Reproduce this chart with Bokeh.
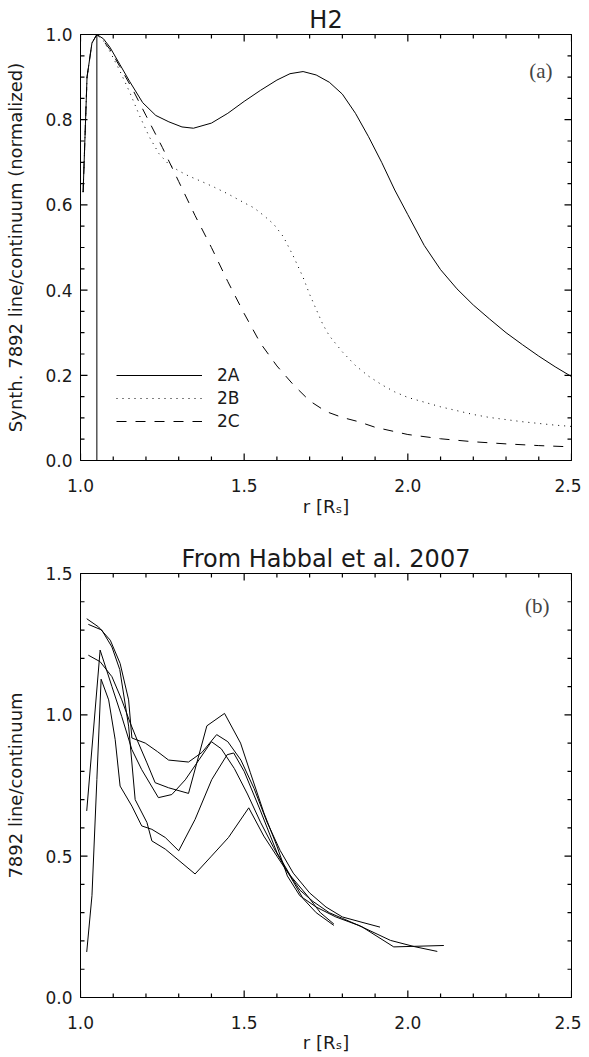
from bokeh.plotting import figure
from bokeh.models import (Range1d, LinearAxis, FixedTicker, PrintfTickFormatter,
                          CustomJSTickFormatter, Span, Label, Legend, LegendItem)
from bokeh.layouts import column
from bokeh.embed import file_html
from bokeh.resources import INLINE

# ---------------- data: panel (a) synthetic profiles ----------------
r_2a = [1.008, 1.02, 1.035, 1.05, 1.07, 1.09, 1.12, 1.15, 1.19, 1.23, 1.27, 1.31, 1.345,
        1.40, 1.45, 1.50, 1.55, 1.60, 1.64, 1.68, 1.72, 1.76, 1.80, 1.84, 1.88, 1.92,
        1.96, 2.00, 2.05, 2.10, 2.15, 2.20, 2.25, 2.30, 2.35, 2.40, 2.45, 2.50]
v_2a = [0.63, 0.90, 0.98, 1.0, 0.99, 0.97, 0.93, 0.89, 0.84, 0.81, 0.795, 0.783, 0.78,
        0.792, 0.815, 0.843, 0.869, 0.893, 0.908, 0.913, 0.905, 0.888, 0.86, 0.815, 0.76,
        0.70, 0.635, 0.577, 0.505, 0.448, 0.403, 0.365, 0.332, 0.30, 0.272, 0.245, 0.22, 0.197]

r_2b = [1.008, 1.02, 1.035, 1.05, 1.07, 1.09, 1.12, 1.15, 1.18, 1.21, 1.24, 1.27, 1.30,
        1.33, 1.37, 1.41, 1.45, 1.50, 1.53, 1.56, 1.59, 1.62, 1.65, 1.68, 1.70, 1.72,
        1.74, 1.76, 1.80, 1.84, 1.88, 1.92, 1.96, 2.00, 2.05, 2.10, 2.15, 2.20, 2.25,
        2.30, 2.35, 2.40, 2.45, 2.50]
v_2b = [0.63, 0.90, 0.98, 1.0, 0.985, 0.96, 0.915, 0.865, 0.81, 0.76, 0.72, 0.695, 0.68,
        0.668, 0.655, 0.641, 0.626, 0.605, 0.593, 0.575, 0.555, 0.525, 0.48, 0.43, 0.39,
        0.355, 0.32, 0.293, 0.255, 0.223, 0.198, 0.178, 0.161, 0.148, 0.137, 0.126, 0.117,
        0.108, 0.101, 0.096, 0.091, 0.087, 0.083, 0.08]

r_2c = [1.008, 1.02, 1.035, 1.05, 1.07, 1.09, 1.12, 1.16, 1.20, 1.25, 1.30, 1.35, 1.40,
        1.45, 1.50, 1.55, 1.60, 1.65, 1.70, 1.75, 1.80, 1.85, 1.90, 2.00, 2.10, 2.20,
        2.30, 2.40, 2.50]
v_2c = [0.63, 0.90, 0.98, 1.0, 0.985, 0.965, 0.925, 0.87, 0.81, 0.735, 0.655, 0.575, 0.50,
        0.42, 0.345, 0.275, 0.222, 0.178, 0.14, 0.115, 0.101, 0.091, 0.078, 0.061, 0.051,
        0.044, 0.039, 0.035, 0.032]

series_labels = ["2A", "2B", "2C"]
limb_r = 1.05

# ---------------- data: panel (b) Habbal et al. 2007 ----------------
hab_r_1 = [1.019, 1.055, 1.091, 1.121, 1.147, 1.157, 1.198, 1.235, 1.269, 1.33, 1.371,
           1.416, 1.45, 1.49, 1.53, 1.57, 1.61, 1.65, 1.70, 1.75, 1.80, 1.86, 1.915]
hab_v_1 = [1.34, 1.311, 1.264, 1.182, 1.053, 0.918, 0.90, 0.87, 0.84, 0.833, 0.867,
           0.93, 0.905, 0.84, 0.74, 0.62, 0.52, 0.44, 0.37, 0.32, 0.285, 0.266, 0.249]

hab_r_2 = [1.024, 1.065, 1.096, 1.12, 1.147, 1.167, 1.203, 1.218, 1.259, 1.35, 1.40,
           1.452, 1.514, 1.56, 1.60, 1.64, 1.68, 1.72, 1.774]
hab_v_2 = [1.32, 1.30, 1.24, 1.16, 0.96, 0.70, 0.619, 0.554, 0.525, 0.437, 0.50,
           0.566, 0.671, 0.571, 0.50, 0.43, 0.35, 0.30, 0.255]

hab_r_3 = [1.024, 1.06, 1.096, 1.126, 1.152, 1.177, 1.203, 1.228, 1.269, 1.33, 1.386,
           1.44, 1.489, 1.519, 1.56, 1.60, 1.632, 1.67, 1.72, 1.78, 1.85, 1.947, 2.02, 2.09]
hab_v_3 = [1.211, 1.188, 1.135, 1.053, 0.971, 0.90, 0.83, 0.76, 0.742, 0.722, 0.961,
           1.005, 0.90, 0.795, 0.654, 0.536, 0.43, 0.36, 0.32, 0.285, 0.255, 0.202, 0.18, 0.163]

hab_r_4 = [1.019, 1.06, 1.096, 1.126, 1.157, 1.187, 1.238, 1.279, 1.32, 1.40, 1.43,
           1.47, 1.51, 1.55, 1.59, 1.63, 1.67, 1.71, 1.76, 1.80, 1.86, 1.957, 2.11]
hab_v_4 = [0.66, 1.229, 1.10, 0.994, 0.877, 0.806, 0.707, 0.718, 0.77, 0.905, 0.88,
           0.81, 0.72, 0.62, 0.53, 0.45, 0.38, 0.34, 0.30, 0.28, 0.25, 0.179, 0.184]

hab_r_5 = [1.019, 1.035, 1.05, 1.063, 1.086, 1.106, 1.121, 1.157, 1.187, 1.218, 1.259,
           1.30, 1.35, 1.401, 1.448, 1.468, 1.50, 1.55, 1.60, 1.642, 1.693, 1.733, 1.774]
hab_v_5 = [0.161, 0.36, 0.771, 1.126, 1.053, 0.912, 0.748, 0.677, 0.607, 0.595, 0.566,
           0.519, 0.63, 0.771, 0.859, 0.865, 0.80, 0.66, 0.513, 0.43, 0.36, 0.30, 0.26]

# ---------------- ticks ----------------
x_ticks = [1.0, 1.5, 2.0, 2.5]
x_minor = [1.1, 1.2, 1.3, 1.4, 1.6, 1.7, 1.8, 1.9, 2.1, 2.2, 2.3, 2.4]
ya_ticks = [0.0, 0.2, 0.4, 0.6, 0.8, 1.0]
ya_minor = [0.05, 0.10, 0.15, 0.25, 0.30, 0.35, 0.45, 0.50, 0.55, 0.65, 0.70, 0.75,
            0.85, 0.90, 0.95]
yb_ticks = [0.0, 0.5, 1.0, 1.5]
yb_minor = [0.1, 0.2, 0.3, 0.4, 0.6, 0.7, 0.8, 0.9, 1.1, 1.2, 1.3, 1.4]

FONT = "DejaVu Sans"
TXT = "#1a1a1a"
TICK_COLOR = "black"
TICK_W = 1.2
MAJOR_LEN = 7
MINOR_LEN = 4
FIG_W = 581
BORDER_L = 80
BORDER_R = 10
FRAME_W = FIG_W - BORDER_L - BORDER_R
FRAME_H = 426


def style_axis(ax, ticker, show_labels, label=None):
    ax.ticker = ticker
    ax.major_tick_in = 0
    ax.major_tick_out = 0
    ax.minor_tick_in = 0
    ax.minor_tick_out = 0
    ax.axis_line_color = "black"
    if show_labels:
        ax.formatter = PrintfTickFormatter(format="%.1f")
        ax.major_label_text_font = FONT
        ax.major_label_text_font_size = "17px"
        ax.major_label_text_color = TXT
    else:
        ax.formatter = CustomJSTickFormatter(code="return ''")
        ax.major_label_text_font_size = "1px"
        ax.major_label_text_color = None
        ax.major_label_standoff = 0
    if label:
        ax.axis_label = label
        ax.axis_label_text_font = FONT
        ax.axis_label_text_font_size = "18px"
        ax.axis_label_text_font_style = "normal"
        ax.axis_label_text_color = TXT


def tick_marks(p, x0, x1, y0, y1, yt, ym):
    # inward tick marks on all four sides, drawn through the plot's data scales
    dx = (x1 - x0) / FRAME_W
    dy = (y1 - y0) / FRAME_H
    for ticks, ln in [(x_ticks, MAJOR_LEN), (x_minor, MINOR_LEN)]:
        n = len(ticks)
        p.segment(x0=ticks, y0=[y0] * n, x1=ticks, y1=[y0 + ln * dy] * n,
                  line_color=TICK_COLOR, line_width=TICK_W)
        p.segment(x0=ticks, y0=[y1] * n, x1=ticks, y1=[y1 - ln * dy] * n,
                  line_color=TICK_COLOR, line_width=TICK_W)
    for ticks, ln in [(yt, MAJOR_LEN), (ym, MINOR_LEN)]:
        n = len(ticks)
        p.segment(x0=[x0] * n, y0=ticks, x1=[x0 + ln * dx] * n, y1=ticks,
                  line_color=TICK_COLOR, line_width=TICK_W)
        p.segment(x0=[x1] * n, y0=ticks, x1=[x1 - ln * dx] * n, y1=ticks,
                  line_color=TICK_COLOR, line_width=TICK_W)


def make_fig(title, ylabel, yend, yt, ym, height, top, bottom, xlab_standoff):
    p = figure(width=FIG_W, height=height, x_range=Range1d(1.0, 2.5),
               y_range=Range1d(0.0, yend), output_backend="svg",
               toolbar_location=None, min_border_left=BORDER_L, min_border_right=BORDER_R,
               min_border_top=top, min_border_bottom=bottom)
    p.title.text = title
    p.title.align = "center"
    p.title.text_font = FONT
    p.title.text_font_size = "24px"
    p.title.text_font_style = "normal"
    p.title.text_color = TXT
    p.title.standoff = 2
    p.xgrid.visible = False
    p.ygrid.visible = False
    p.outline_line_color = "black"
    xt = FixedTicker(ticks=x_ticks, minor_ticks=x_minor)
    ytk = FixedTicker(ticks=yt, minor_ticks=ym)
    style_axis(p.xaxis[0], xt, True, "r [R\u209b]")
    p.xaxis[0].major_label_standoff = 18
    p.xaxis[0].axis_label_standoff = xlab_standoff
    style_axis(p.yaxis[0], ytk, True, ylabel)
    p.yaxis[0].major_label_standoff = 8
    p.yaxis[0].axis_label_standoff = 16
    top_ax = LinearAxis()
    style_axis(top_ax, xt, False)
    p.add_layout(top_ax, "above")
    right_ax = LinearAxis()
    style_axis(right_ax, ytk, False)
    p.add_layout(right_ax, "right")
    tick_marks(p, 1.0, 2.5, 0.0, yend, yt, ym)
    return p


# ---------------- panel (a) ----------------
p1 = make_fig("H2", "Synth. 7892 line/continuum (normalized)", 1.0,
              ya_ticks, ya_minor, 520, 34, 60, 1)
ra = p1.line(r_2a, v_2a, line_color="black", line_width=1)
rb = p1.line(r_2b, v_2b, line_color="black", line_width=1, line_dash="1 5")
rc = p1.line(r_2c, v_2c, line_color="black", line_width=1, line_dash="10 9")
p1.add_layout(Span(location=limb_r, dimension="height", line_color="black", line_width=1))
leg = Legend(items=[LegendItem(label=series_labels[0], renderers=[ra]),
                    LegendItem(label=series_labels[1], renderers=[rb]),
                    LegendItem(label=series_labels[2], renderers=[rc])],
             location=(36, 29), orientation="vertical", glyph_width=86, glyph_height=20,
             label_height=20, label_standoff=15, spacing=3, padding=0, margin=0,
             border_line_color=None, background_fill_alpha=0,
             label_text_font=FONT, label_text_font_size="17px", label_text_color=TXT)
p1.add_layout(leg)
p1.add_layout(Label(x=2.5, y=1.0, x_offset=-19, y_offset=-24, text="(a)",
                    text_align="right", text_baseline="top",
                    text_font="Liberation Serif", text_font_size="21px"))

# ---------------- panel (b) ----------------
p2 = make_fig("From Habbal et al. 2007", "7892 line/continuum", 1.5,
              yb_ticks, yb_minor, 535, 53, 56, 0)
for rr, vv in [(hab_r_1, hab_v_1), (hab_r_2, hab_v_2), (hab_r_3, hab_v_3),
               (hab_r_4, hab_v_4), (hab_r_5, hab_v_5)]:
    p2.line(rr, vv, line_color="black", line_width=1)
p2.add_layout(Label(x=2.5, y=1.5, x_offset=-22, y_offset=-20, text="(b)",
                    text_align="right", text_baseline="top",
                    text_font="Liberation Serif", text_font_size="21px"))

layout = column(p1, p2, spacing=0)
open("out.html", "w").write(file_html(layout, INLINE))
